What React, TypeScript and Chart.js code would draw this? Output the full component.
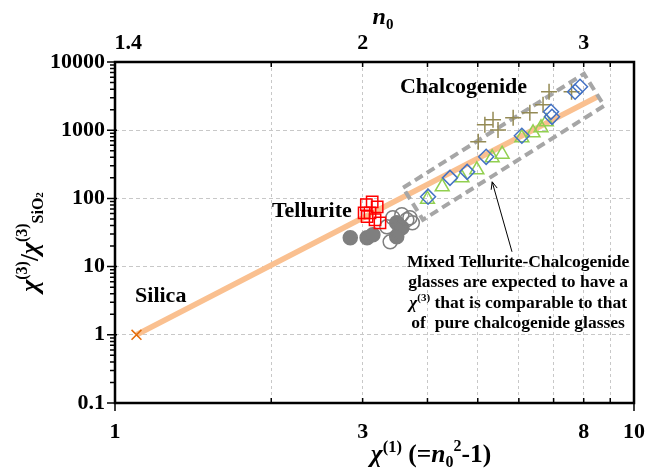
import { useEffect, useRef } from 'react';
import { Chart, registerables } from 'chart.js';

Chart.register(...registerables);

const FONT = '"Liberation Serif", "Times New Roman", serif';

// ---- axis ticks ----
const X_TICKS = [1, 2, 3, 4, 5, 6, 7, 8, 9, 10];
const X_LABELED = [1, 3, 8, 10];
const Y_TICKS = [0.1, 1, 10, 100, 1000, 10000];
const Y_LABELS = ['0.1', '1', '10', '100', '1000', '10000'];
const TOP_TICKS = [1.06, 3, 8];
const TOP_LABELS = ['1.4', '2', '3'];

// ---- data ----
const SILICA_X = [1.1];
const SILICA_Y = [1];

const TREND_X = [1.1, 8.5];
const TREND_Y = [1, 3100];

const TELL_SQ_X = [3.05, 3.13, 3.2, 3.02, 3.1, 3.06, 3.17, 3.24];
const TELL_SQ_Y = [81, 89, 75, 61.5, 61.5, 54, 48.6, 43.9];

const TELL_FILLED_X = [2.84, 3.06, 3.14, 3.49, 3.57, 3.49];
const TELL_FILLED_Y = [26.4, 26.4, 29.3, 43.9, 37.1, 27.3];

const TELL_OPEN_X = [3.39, 3.43, 3.57, 3.7, 3.74, 3.65, 3.34];
const TELL_OPEN_Y = [23.1, 52, 57.5, 52, 43.9, 48.6, 38.3];

const CHAL_DIA_X = [4.01, 4.42, 4.77, 5.19, 6.08, 6.92, 6.95, 7.7, 7.87];
const CHAL_DIA_Y = [106, 200, 245, 407, 828, 1860, 1570, 3660, 4330];

const CHAL_TRI_X = [4.0, 4.27, 4.66, 4.98, 5.33, 5.57, 6.08, 6.39, 6.62, 6.78];
const CHAL_TRI_Y = [97, 148, 200, 262, 394, 445, 774, 916, 1085, 1330];

const CHAL_PLUS_X = [5.01, 5.16, 5.35, 5.47, 5.85, 6.3, 6.68, 6.86, 7.58];
const CHAL_PLUS_Y = [676, 1200, 1420, 1010, 1520, 1800, 2355, 3660, 3660];

const BOX_X = [3.59, 8.01, 8.76, 3.92, 3.59];
const BOX_Y = [143, 6710, 2280, 48.6, 143];

// annotation anchors (data space)
const LABEL_CHAL = { x: 3.54, y: 3535 };
const LABEL_TELL = { x: 2.006, y: 53.7 };
const LABEL_SILICA = { x: 1.093, y: 3.05 };
const NOTE_ANCHOR = { x: 5.98, y: 9.93 };
const NOTE_LINES = [
  'Mixed Tellurite-Chalcogenide',
  'glasses are expected to have a',
  '§ that is comparable to that',
  'of  pure chalcogenide glasses',
];
const ARROW_FROM = { x: 5.82, y: 16.5 };
const ARROW_TO = { x: 5.33, y: 175 };

const pts = (xs: number[], ys: number[]) => xs.map((x, i) => ({ x, y: ys[i] }));

type Run = { t: string; size: number; italic?: boolean; dy?: number };

function fontOf(r: Run) {
  return `${r.italic ? 'italic ' : ''}bold ${r.size}px ${FONT}`;
}
function runsWidth(ctx: CanvasRenderingContext2D, runs: Run[]) {
  let w = 0;
  for (const r of runs) {
    ctx.font = fontOf(r);
    w += ctx.measureText(r.t).width;
  }
  return w;
}
function drawRuns(ctx: CanvasRenderingContext2D, runs: Run[], x: number, y: number, align: 'left' | 'center') {
  const w = runsWidth(ctx, runs);
  let cx = align === 'center' ? x - w / 2 : x;
  ctx.textAlign = 'left';
  ctx.textBaseline = 'alphabetic';
  for (const r of runs) {
    ctx.font = fontOf(r);
    ctx.fillText(r.t, cx, y + (r.dy || 0));
    cx += ctx.measureText(r.t).width;
  }
}

const framePlugin = {
  id: 'frameAndText',
  afterDraw(chart: any) {
    const { ctx, chartArea: a, scales } = chart;
    const xs = scales.x;
    const ys = scales.y;
    ctx.save();
    ctx.setLineDash([]);
    ctx.strokeStyle = '#000';
    ctx.fillStyle = '#000';

    // tick marks
    ctx.lineWidth = 1.5;
    ctx.beginPath();
    for (const v of Y_TICKS) {
      const y = ys.getPixelForValue(v);
      ctx.moveTo(a.left - 8, y);
      ctx.lineTo(a.left + 2, y);
      if (v < 10000) {
        for (let k = 2; k <= 9; k++) {
          const yy = ys.getPixelForValue(v * k);
          ctx.moveTo(a.left - 5, yy);
          ctx.lineTo(a.left, yy);
        }
      }
    }
    for (const v of X_TICKS) {
      const x = xs.getPixelForValue(v);
      if (v === 1 || v === 10) {
        ctx.moveTo(x, a.bottom + 8);
        ctx.lineTo(x, a.bottom - 2);
      } else {
        ctx.moveTo(x, a.bottom);
        ctx.lineTo(x, a.bottom - 5);
        ctx.moveTo(x, a.top);
        ctx.lineTo(x, a.top + 5);
      }
    }
    ctx.stroke();

    // frame
    ctx.lineWidth = 2.5;
    ctx.strokeRect(a.left, a.top, a.right - a.left, a.bottom - a.top);

    // arrow
    const x1 = xs.getPixelForValue(ARROW_FROM.x);
    const y1 = ys.getPixelForValue(ARROW_FROM.y);
    const x2 = xs.getPixelForValue(ARROW_TO.x);
    const y2 = ys.getPixelForValue(ARROW_TO.y);
    ctx.lineWidth = 1;
    ctx.beginPath();
    ctx.moveTo(x1, y1);
    ctx.lineTo(x2, y2);
    ctx.stroke();
    const ang = Math.atan2(y2 - y1, x2 - x1);
    const hl = 8;
    ctx.beginPath();
    ctx.moveTo(x2 - hl * Math.cos(ang - 0.4), y2 - hl * Math.sin(ang - 0.4));
    ctx.lineTo(x2, y2);
    ctx.lineTo(x2 - hl * Math.cos(ang + 0.4), y2 - hl * Math.sin(ang + 0.4));
    ctx.stroke();

    // labels
    drawRuns(ctx, [{ t: 'Chalcogenide', size: 22 }], xs.getPixelForValue(LABEL_CHAL.x), ys.getPixelForValue(LABEL_CHAL.y), 'left');
    drawRuns(ctx, [{ t: 'Tellurite', size: 22 }], xs.getPixelForValue(LABEL_TELL.x), ys.getPixelForValue(LABEL_TELL.y), 'left');
    drawRuns(ctx, [{ t: 'Silica', size: 22 }], xs.getPixelForValue(LABEL_SILICA.x), ys.getPixelForValue(LABEL_SILICA.y), 'left');

    const nx = xs.getPixelForValue(NOTE_ANCHOR.x);
    const ny = ys.getPixelForValue(NOTE_ANCHOR.y);
    NOTE_LINES.forEach((line, i) => {
      const y = ny + i * 20.5;
      if (line.startsWith('§')) {
        drawRuns(ctx, [
          { t: 'χ', size: 17.5, italic: true },
          { t: '(3)', size: 11, dy: -7 },
          { t: line.slice(1), size: 17.5 },
        ], nx, y, 'center');
      } else {
        drawRuns(ctx, [{ t: line, size: 17.5 }], nx, y, 'center');
      }
    });

    // axis titles
    drawRuns(ctx, [
      { t: 'χ', size: 25.5, italic: true },
      { t: '(1)', size: 16.5, dy: -10 },
      { t: ' (=', size: 25.5 },
      { t: 'n', size: 25.5, italic: true },
      { t: '0', size: 16, dy: 5 },
      { t: '2', size: 16, dy: -11 },
      { t: '-1)', size: 25.5 },
    ], 431, 462, 'center');

    drawRuns(ctx, [
      { t: 'n', size: 24, italic: true },
      { t: '0', size: 15, dy: 5 },
    ], 383, 24, 'center');

    ctx.save();
    ctx.translate(30, 242);
    ctx.rotate(-Math.PI / 2);
    drawRuns(ctx, [
      { t: 'χ', size: 26, italic: true },
      { t: '(3)', size: 16, dy: -11 },
      { t: '/', size: 25 },
      { t: 'χ', size: 26, italic: true },
      { t: '(3)', size: 16, dy: -11 },
      { t: 'SiO', size: 16, dy: 5 },
      { t: '2', size: 11, dy: 5 },
    ], 0, 8, 'center');
    ctx.restore();

    ctx.restore();
  },
};

export default function App() {
  const ref = useRef<HTMLCanvasElement>(null);
  useEffect(() => {
    if (!ref.current) return;
    const tickFont = { family: FONT, size: 22, weight: 'bold' as const };
    const pointSet = (label: string, data: any[], style: string, color: string, fill: string, radius: number, order: number) => ({
      label,
      data,
      showLine: false,
      pointStyle: style,
      pointRadius: radius,
      pointBorderColor: color,
      pointBackgroundColor: fill,
      pointBorderWidth: 1.5,
      borderColor: color,
      backgroundColor: fill,
      order,
    });
    const noPadX = (h: number) => (s: any) => {
      s.height = h;
      s.paddingLeft = 0;
      s.paddingRight = 0;
    };
    const chart = new Chart(ref.current, {
      type: 'scatter',
      data: {
        datasets: [
          {
            label: 'trend',
            data: pts(TREND_X, TREND_Y),
            showLine: true,
            borderColor: '#FAC090',
            borderWidth: 5.5,
            pointRadius: 0,
            order: 20,
          } as any,
          {
            label: 'box',
            data: pts(BOX_X, BOX_Y),
            showLine: true,
            borderColor: '#A6A6A6',
            borderWidth: 4,
            borderDash: [9, 5],
            pointRadius: 0,
            order: 19,
          } as any,
          pointSet('Silica', pts(SILICA_X, SILICA_Y), 'crossRot', '#E46C0A', 'rgba(0,0,0,0)', 7, 5),
          pointSet('Tellurite filled', pts(TELL_FILLED_X, TELL_FILLED_Y), 'circle', '#7F7F7F', '#7F7F7F', 7, 8),
          pointSet('Tellurite open', pts(TELL_OPEN_X, TELL_OPEN_Y), 'circle', '#7F7F7F', 'rgba(0,0,0,0)', 7, 7),
          pointSet('Tellurite', pts(TELL_SQ_X, TELL_SQ_Y), 'rect', '#FF0000', 'rgba(0,0,0,0)', 8, 4),
          pointSet('Chalc plus', pts(CHAL_PLUS_X, CHAL_PLUS_Y), 'cross', '#948A54', 'rgba(0,0,0,0)', 8, 6),
          pointSet('Chalc tri', pts(CHAL_TRI_X, CHAL_TRI_Y), 'triangle', '#92D050', 'rgba(0,0,0,0)', 8, 5),
          pointSet('Chalc dia', pts(CHAL_DIA_X, CHAL_DIA_Y), 'rectRot', '#4472C4', 'rgba(0,0,0,0)', 7.5, 3),
        ],
      },
      options: {
        responsive: false,
        animation: false,
        devicePixelRatio: 1,
        layout: { padding: { left: 0, right: 13, top: 0, bottom: 0 } },
        plugins: { legend: { display: false }, tooltip: { enabled: false } },
        scales: {
          x: {
            type: 'logarithmic',
            position: 'bottom',
            min: 1,
            max: 10,
            afterBuildTicks: (s: any) => {
              s.ticks = X_TICKS.map((v) => ({ value: v }));
            },
            afterFit: noPadX(65),
            ticks: {
              autoSkip: false,
              maxRotation: 0,
              minRotation: 0,
              padding: 16,
              color: '#000',
              font: tickFont,
              callback: (v: any) => (X_LABELED.includes(Number(v)) ? String(v) : ''),
            },
            grid: {
              drawTicks: false,
              lineWidth: 1,
              color: (c: any) => (c.tick && (c.tick.value === 1 || c.tick.value === 10) ? 'rgba(0,0,0,0)' : '#C8C8C8'),
            },
            border: { display: false, dash: [3, 3] },
          },
          x2: {
            type: 'logarithmic',
            position: 'top',
            min: 1,
            max: 10,
            afterBuildTicks: (s: any) => {
              s.ticks = TOP_TICKS.map((v) => ({ value: v }));
            },
            afterFit: noPadX(62),
            ticks: {
              autoSkip: false,
              maxRotation: 0,
              minRotation: 0,
              padding: 5,
              color: '#000',
              font: tickFont,
              callback: (_v: any, i: number) => TOP_LABELS[i],
            },
            grid: { display: false, drawTicks: false },
            border: { display: false },
          },
          y: {
            type: 'logarithmic',
            position: 'left',
            min: 0.1,
            max: 10000,
            afterBuildTicks: (s: any) => {
              s.ticks = Y_TICKS.map((v) => ({ value: v }));
            },
            afterFit: (s: any) => {
              s.width = 115;
              s.paddingTop = 0;
              s.paddingBottom = 0;
            },
            ticks: {
              autoSkip: false,
              padding: 10,
              color: '#000',
              font: tickFont,
              callback: (_v: any, i: number) => Y_LABELS[i],
            },
            grid: {
              drawTicks: false,
              lineWidth: 1,
              color: (c: any) => (c.tick && (c.tick.value === 0.1 || c.tick.value === 10000) ? 'rgba(0,0,0,0)' : '#C8C8C8'),
            },
            border: { display: false, dash: [4, 3] },
          },
        },
      } as any,
      plugins: [framePlugin],
    });
    return () => chart.destroy();
  }, []);
  return (
    <div style={{ position: 'fixed', left: 0, top: 0, width: 647, height: 468, background: '#fff' }}>
      <canvas ref={ref} width={647} height={468} style={{ display: 'block' }} />
    </div>
  );
}
